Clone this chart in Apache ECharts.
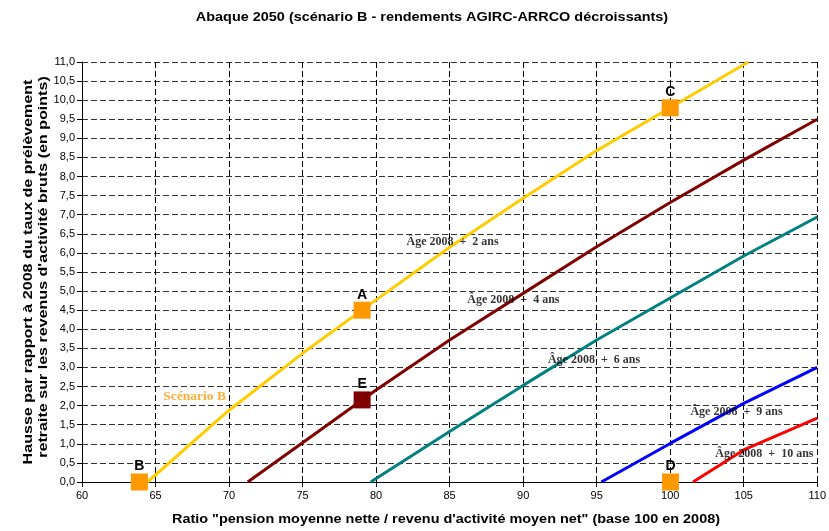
<!DOCTYPE html>
<html>
<head>
<meta charset="utf-8">
<script src="https://cdn.jsdelivr.net/npm/echarts@6/dist/echarts.min.js"></script>
<style>
html,body{margin:0;padding:0;background:#fff;}
#chart{width:829px;height:531px;}
</style>
</head>
<body>
<div id="chart"></div>
<script>
// ---- data ----
const titleText = 'Abaque 2050 (scénario B - rendements AGIRC-ARRCO décroissants)';
const xTitle = 'Ratio "pension moyenne nette / revenu d\'activité moyen net" (base 100 en 2008)';
const yTitleLines = ['Hausse par rapport à 2008 du taux de prélèvement', 'retraite sur les revenus d\'activité bruts (en points)'];

const age2X = [64.45, 70, 75, 80, 85, 90, 95, 100, 105.3];
const age2Y = [0, 1.88, 3.37, 4.77, 6.15, 7.43, 8.68, 9.8, 11];
const age4X = [71.27, 75, 79.05, 80, 85, 90, 95, 100, 105, 110];
const age4Y = [0, 1.03, 2.15, 2.41, 3.72, 4.94, 6.16, 7.32, 8.43, 9.5];
const age6X = [79.63, 85, 90, 95, 100, 105, 110];
const age6Y = [0, 1.32, 2.53, 3.72, 4.82, 5.92, 6.94];
const age9X = [95.32, 100, 105, 110];
const age9Y = [0, 1.01, 2.06, 3.0];
const age10X = [101.55, 105, 110];
const age10Y = [0, 0.84, 1.67];

const curveLabels = ['Âge 2008  +  2 ans', 'Âge 2008  +  4 ans', 'Âge 2008  +  6 ans', 'Âge 2008  +  9 ans', 'Âge 2008  +  10 ans'];
const curveLabelX = [85.2, 89.34, 94.82, 104.51, 106.41];
const curveLabelY = [6.29, 4.77, 3.2, 1.83, 0.73];

const scenarioLabel = 'Scénario B';
const scenarioLabelX = 67.66;
const scenarioLabelY = 2.23;

const markerNames = ['A', 'B', 'C', 'D', 'E'];
const markerX = [79.05, 63.9, 100, 100.02, 79.05];
const markerY = [4.5, 0, 9.8, 0, 2.15];

// ---- styles ----
const curveColors = ['#FFCC00', '#800000', '#008080', '#0000FF', '#FF0000'];
const markerColors = {A: '#FF9900', B: '#FF9900', C: '#FF9900', D: '#FF9900', E: '#800000'};
const sans = '"Liberation Sans", Arial, sans-serif';
const serif = '"Liberation Serif", "Times New Roman", serif';

const curves = [[age2X, age2Y], [age4X, age4Y], [age6X, age6Y], [age9X, age9Y], [age10X, age10Y]];
const zip = (xs, ys) => xs.map((x, i) => [x, ys[i]]);
const fmt = v => v.toFixed(1).replace('.', ',');

const series = curves.map((c, i) => ({
  type: 'line',
  data: zip(c[0], c[1]),
  showSymbol: false,
  symbol: 'none',
  lineStyle: {color: curveColors[i], width: 3},
  clip: true,
  z: 3,
  silent: true
}));

series.push({
  type: 'scatter',
  silent: true,
  symbolSize: 0,
  data: curveLabels.map((t, i) => ({value: [curveLabelX[i], curveLabelY[i]], name: t})),
  label: {
    show: true, position: 'inside', formatter: '{b}',
    fontFamily: serif, fontWeight: 'bold', fontSize: 12, color: '#000'
  },
  z: 5
});

series.push({
  type: 'scatter',
  silent: true,
  symbolSize: 0,
  data: [{value: [scenarioLabelX, scenarioLabelY], name: scenarioLabel}],
  label: {
    show: true, position: 'inside', formatter: '{b}',
    fontFamily: serif, fontWeight: 'bold', fontSize: 13.5, color: '#FF9900'
  },
  z: 5
});

series.push({
  type: 'scatter',
  silent: true,
  symbol: 'rect',
  symbolSize: 17,
  data: markerNames.map((n, i) => ({
    value: [markerX[i], markerY[i]], name: n,
    itemStyle: {color: markerColors[n], opacity: 1}
  })),
  itemStyle: {opacity: 1},
  label: {
    show: true, position: 'top', distance: 0, formatter: '{b}',
    fontFamily: sans, fontWeight: 'bold', fontSize: 14, color: '#000'
  },
  clip: false,
  z: 6
});

const chart = echarts.init(document.getElementById('chart'), null, {renderer: 'canvas'});
chart.setOption({
  backgroundColor: '#fff',
  animation: false,
  graphic: [
    {type: 'text', x: 432, y: 17, scaleX: 1.11, z: 10,
     style: {text: titleText, font: 'bold 13px ' + sans, fill: '#000', textAlign: 'center', textVerticalAlign: 'middle'}},
    {type: 'text', x: 446, y: 519, scaleX: 1.11, z: 10,
     style: {text: xTitle, font: 'bold 13px ' + sans, fill: '#000', textAlign: 'center', textVerticalAlign: 'middle'}},
    {type: 'text', x: 28, y: 272, rotation: Math.PI / 2, scaleX: 1.19, z: 10,
     style: {text: yTitleLines[0], font: 'bold 13.5px ' + sans, fill: '#000', textAlign: 'center', textVerticalAlign: 'middle'}},
    {type: 'text', x: 43, y: 267, rotation: Math.PI / 2, scaleX: 1.19, z: 10,
     style: {text: yTitleLines[1], font: 'bold 13.5px ' + sans, fill: '#000', textAlign: 'center', textVerticalAlign: 'middle'}}
  ],
  grid: {left: 82, right: 9, top: 62, bottom: 49, containLabel: false},
  xAxis: {
    type: 'value', min: 60, max: 110, interval: 5,
    axisLine: {show: true, onZero: false, lineStyle: {color: '#000', width: 1}},
    axisTick: {show: true, length: 5, lineStyle: {color: '#000'}},
    axisLabel: {fontFamily: sans, fontSize: 11, color: '#000', margin: 8},
    splitLine: {show: true, lineStyle: {color: '#000', type: [6, 3], width: 1}}
  },
  yAxis: {
    type: 'value', min: 0, max: 11, interval: 0.5,
    axisLine: {show: true, onZero: false, lineStyle: {color: '#000', width: 1}},
    axisTick: {show: true, length: 5, lineStyle: {color: '#000'}},
    axisLabel: {fontFamily: sans, fontSize: 11, color: '#000', margin: 7, formatter: fmt},
    splitLine: {show: true, lineStyle: {color: '#333', type: [6, 3], width: 1}}
  },
  series: series
});
</script>
</body>
</html>
